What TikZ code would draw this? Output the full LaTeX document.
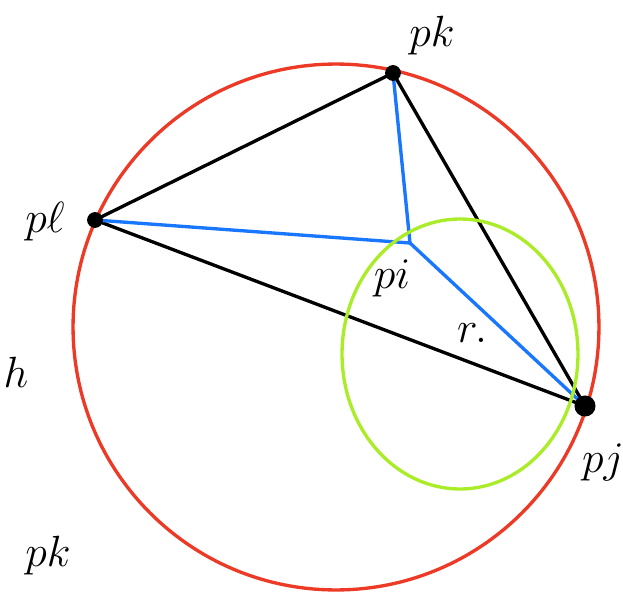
\documentclass[tikz,border=0pt]{standalone}
\usepackage{tikz}
\usetikzlibrary{positioning,calc}
\definecolor{circred}{RGB}{236,58,38}
\definecolor{spokeblue}{RGB}{25,118,255}
\definecolor{limegreen}{RGB}{170,236,40}
\tikzset{
  edge/.style={line width=1.9pt,black},
  spoke/.style={line width=1.9pt,spokeblue},
  lbl/.style={font=\fontsize{46}{50}\selectfont,inner sep=0pt},
  small/.style={font=\fontsize{34}{38}\selectfont,inner sep=0pt},
  vtx/.style={circle,fill=black,inner sep=0pt,minimum size=9pt},
}

\begin{document}
\begin{tikzpicture}[x=0.02cm,y=-0.02cm,line cap=round,line join=round]
  \useasboundingbox (0,0) rectangle (623,595);
  \clip (0,0) rectangle (623,595);
  % the four points
  \coordinate (pk) at (393,73);
  \coordinate (pl) at (95,220);
  \coordinate (pj) at (585,406);
  \coordinate (pi) at (410,243);
  % circumcircle
  \draw[circred,line width=1.9pt] (336,327) circle [radius=5.26cm];
  % triangle
  \draw[edge] (pk) -- (pl) -- (pj) -- cycle;
  \draw[spoke] (pl) -- (pi);
  \draw[spoke] (pk) -- (pi);
  \draw[spoke] (pi) -- (pj);
  % circle round pi
  \draw[limegreen,line width=1.9pt] (460,354) ellipse [x radius=2.36cm,y radius=2.7cm];
  \node[vtx] (dk) at (pk) {};
  \node[vtx] (dl) at (pl) {};
  \node[vtx,minimum size=12pt] (dj) at (pj) {};
  % labels
  \node[lbl] (lk) at (432,36) {$pk$};
  \node[lbl] (ll) at (45,222) {$p\ell$};
  \node[small] (li) at (392,278) {$pi$};
  \node[small] (lr) at (472,333) {$r.$};
  \node[lbl] (lj) at (603,462) {$pj$};
  \node[lbl] (lh) at (16,372) {$h$};
  \node[lbl] (lk2) at (48,556) {$pk$};
\end{tikzpicture}
\end{document}
